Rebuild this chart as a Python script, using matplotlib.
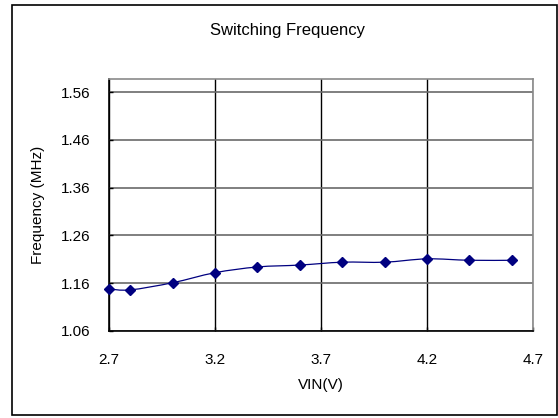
import matplotlib
matplotlib.use("Agg")
import matplotlib.pyplot as plt
from matplotlib.path import Path
from matplotlib.patches import PathPatch, Rectangle
import numpy as np

plt.rcParams['font.family'] = ['Liberation Sans', 'DejaVu Sans']

vin = [2.7, 2.8, 3.0, 3.2, 3.4, 3.6, 3.8, 4.0, 4.2, 4.4, 4.6]
freq = [1.148, 1.146, 1.161, 1.182, 1.194, 1.198, 1.204, 1.204, 1.211, 1.208, 1.208]
xticks = [2.7, 3.2, 3.7, 4.2, 4.7]
yticks = [1.06, 1.16, 1.26, 1.36, 1.46, 1.56]
title = "Switching Frequency"
xlabel = "VIN(V)"
ylabel = "Frequency (MHz)"

W, H = 558, 418
fig = plt.figure(figsize=(W / 100, H / 100), dpi=100)
fig.patch.set_facecolor('white')

# outer chart border
fig.patches.append(Rectangle((12 / W, 3 / H), (W - 13) / W, (H - 8) / H,
                             transform=fig.transFigure, fill=False,
                             edgecolor='black', linewidth=1.2))

L, R, T, B = 109, 533, 78.7, 331
ax = fig.add_axes([L / W, 1 - B / H, (R - L) / W, (B - T) / H])
ax.set_xlim(2.7, 4.7)
ax.set_ylim(1.06, 1.588)
ax.set_xticks(xticks)
ax.set_xticklabels([f"{v:.1f}" for v in xticks])
ax.set_yticks(yticks)
ax.set_yticklabels([f"{v:.2f}" for v in yticks])
ax.xaxis.grid(True, color='#000000', linewidth=1.0)
ax.yaxis.grid(True, color='#6a6a6a', linewidth=1.2)
ax.set_axisbelow(True)
for s in ['top', 'right']:
    ax.spines[s].set_color('#8a8a8a')
for s in ['left', 'bottom']:
    ax.spines[s].set_color('black')
for s in ax.spines.values():
    s.set_linewidth(1.2)
ax.tick_params(direction='in', length=3, width=1, labelsize=11, colors='black')
ax.tick_params(axis='x', pad=16)
ax.tick_params(axis='y', pad=13.5)

# smoothed line (Catmull-Rom style Bezier through data points)
x = np.array(vin)
y = np.array(freq)
verts = [(x[0], y[0])]
codes = [Path.MOVETO]
n = len(x)
t = 1 / 6
for i in range(n - 1):
    p0 = (x[i - 1], y[i - 1]) if i > 0 else (x[i], y[i])
    p1 = (x[i], y[i])
    p2 = (x[i + 1], y[i + 1])
    p3 = (x[i + 2], y[i + 2]) if i + 2 < n else p2
    c1 = (p1[0] + (p2[0] - p0[0]) * t, p1[1] + (p2[1] - p0[1]) * t)
    c2 = (p2[0] - (p3[0] - p1[0]) * t, p2[1] - (p3[1] - p1[1]) * t)
    verts += [c1, c2, p2]
    codes += [Path.CURVE4] * 3
ax.add_patch(PathPatch(Path(verts, codes), facecolor='none', edgecolor='#000080',
                       linewidth=0.9, zorder=3))
ax.plot(vin, freq, linestyle='none', marker='D', markersize=5.5,
        color='#000080', zorder=4, clip_on=False)

ax.set_xlabel(xlabel, fontsize=11, labelpad=8)
ax.set_ylabel(ylabel, fontsize=11, labelpad=11)
fig.text(287 / W, 1 - 30 / H, title, fontsize=12, ha='center', va='center')

fig.savefig("out.png", dpi=100)
